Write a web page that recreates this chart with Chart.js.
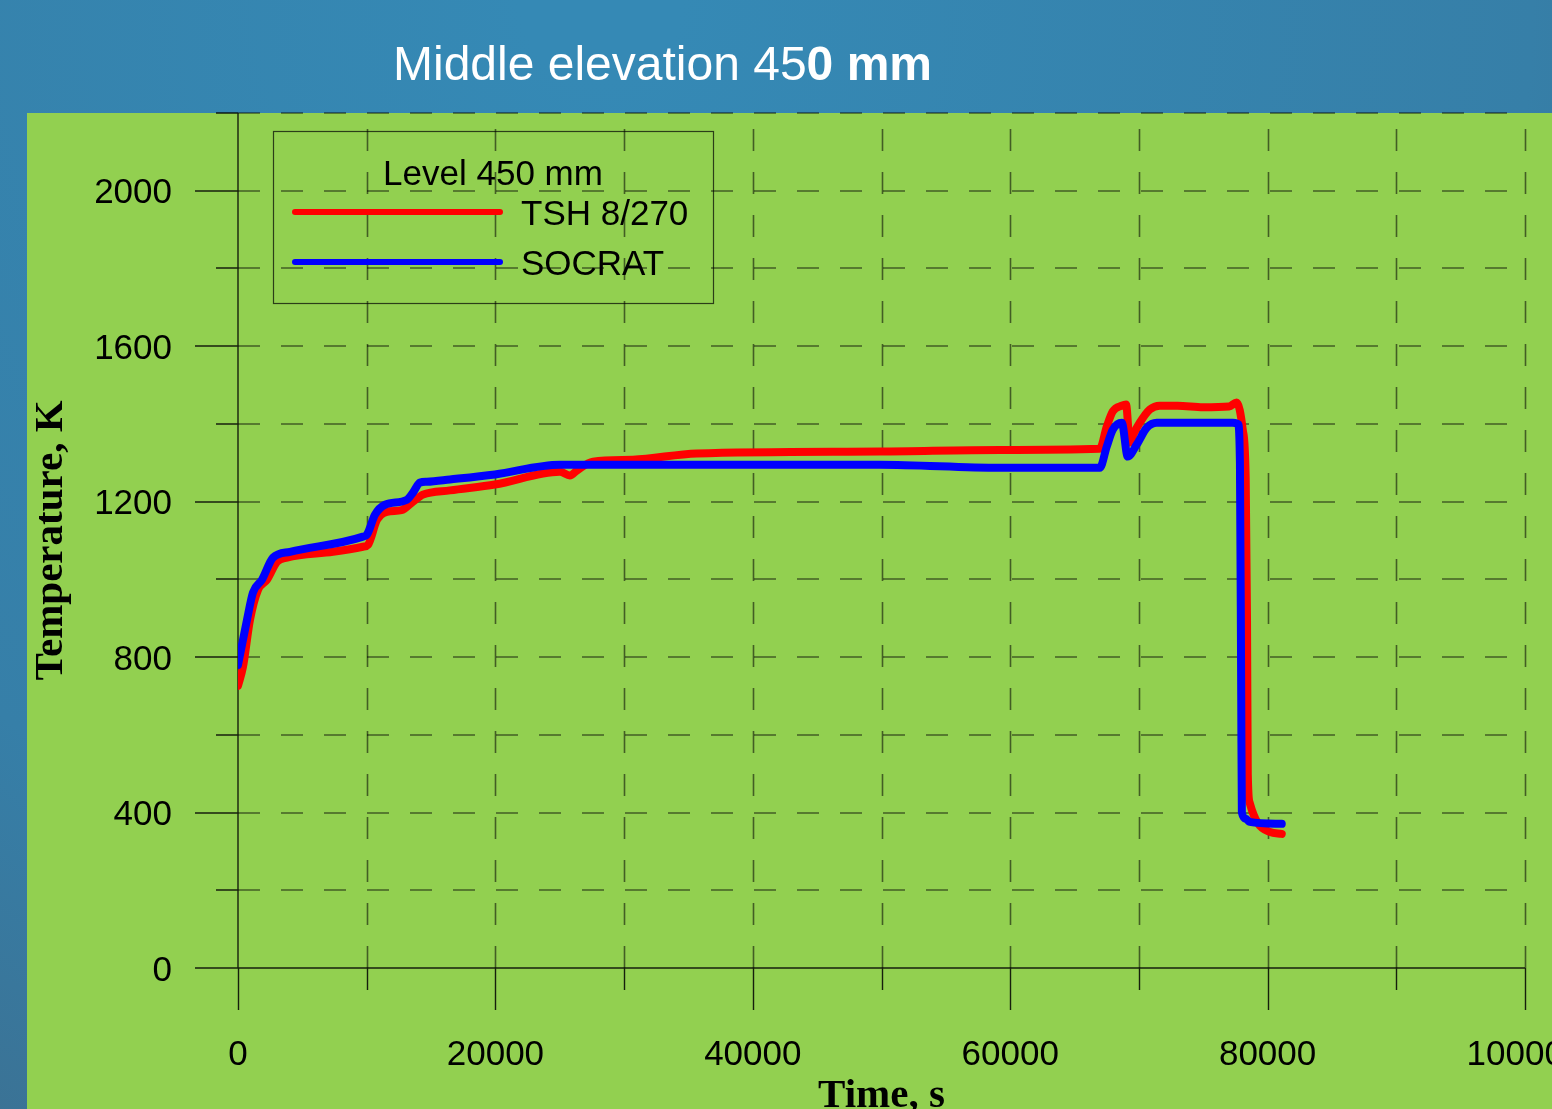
<!DOCTYPE html>
<html><head><meta charset="utf-8">
<script src="https://cdn.jsdelivr.net/npm/chart.js@4.4.1/dist/chart.umd.min.js"></script>
<style>html,body{margin:0;padding:0;overflow:hidden;background:#3585b0}canvas{display:block}</style>
</head><body>
<canvas id="c" width="1552" height="1109"></canvas>
<script>
const chartTitleNormal = 'Middle elevation 45';
const chartTitleBold = '0 mm';
const legendTitle = 'Level 450 mm';
const seriesNames = ['TSH 8/270', 'SOCRAT'];
const xAxisTitle = 'Time, s';
const yAxisTitle = 'Temperature, K';
const xTickValues = [0, 20000, 40000, 60000, 80000, 100000];
const yTickValues = [0, 400, 800, 1200, 1600, 2000];

const tshTime = [0, 388, 932, 1554, 2253, 3030, 3806, 7380, 9710, 10100, 10800, 11575, 12700, 13590, 14370, 16470, 19960, 25010, 25790, 26330, 27580, 30680, 35650, 49870, 59190, 66960, 67505, 67970, 68670, 69000, 69290, 69600, 70065, 70845, 71620, 73000, 75000, 77000, 77600, 78070, 78300, 78400, 78460, 78610, 79230, 80165, 81100];
const tshTemp = [726, 775, 896, 973, 999, 1045, 1056, 1071, 1084, 1089, 1153, 1174, 1178, 1200, 1218, 1229, 1244, 1277, 1267, 1280, 1303, 1308, 1324, 1329, 1333, 1336, 1393, 1432, 1447, 1450, 1352, 1375, 1403, 1437, 1447, 1447, 1443, 1445, 1455, 1385, 1260, 900, 500, 425, 373, 350, 345];

const socTime = [0, 700, 1165, 1864, 2719, 4040, 9710, 10020, 10640, 11420, 13130, 13590, 14140, 14680, 16470, 19960, 25010, 30000, 49870, 59190, 66960, 67505, 67970, 68670, 69135, 69835, 70610, 71390, 77290, 77700, 77850, 77950, 78000, 78300, 78610, 81100];
const socTemp = [780, 896, 966, 999, 1056, 1071, 1110, 1115, 1166, 1192, 1205, 1223, 1249, 1251, 1257, 1270, 1295, 1295, 1295, 1287, 1287, 1342, 1385, 1403, 1316, 1347, 1390, 1403, 1403, 1400, 1300, 700, 400, 384, 376, 371];

const toPoints = (ts, vs) => ts.map((t, i) => ({x: t, y: vs[i]}));

const deco = {
  id: 'deco',
  beforeDraw(chart) {
    const ctx = chart.ctx, W = chart.width, H = chart.height;
    ctx.save();
    const g = ctx.createRadialGradient(600, 0, 80, 600, 0, 1500);
    g.addColorStop(0, '#3589b5');
    g.addColorStop(0.6, '#367fa8');
    g.addColorStop(1, '#3e6a88');
    ctx.fillStyle = g;
    ctx.fillRect(0, 0, W, H);
    ctx.fillStyle = '#92d050';
    ctx.fillRect(27, 113, W - 27, H - 113);
    ctx.fillStyle = '#ffffff';
    ctx.textBaseline = 'alphabetic';
    ctx.textAlign = 'left';
    ctx.font = '48px "Liberation Sans", Arial, sans-serif';
    ctx.fillText(chartTitleNormal, 393, 80);
    const w = ctx.measureText(chartTitleNormal).width;
    ctx.font = 'bold 48px "Liberation Sans", Arial, sans-serif';
    ctx.fillText(chartTitleBold, 393 + w, 80);
    ctx.restore();
  },
  beforeDatasetsDraw(chart) {
    const {ctx} = chart;
    const x = chart.scales.x, y = chart.scales.y;
    const x0 = x.getPixelForValue(x.min), y0 = y.getPixelForValue(y.min);
    const xr = x.getPixelForValue(x.max), yt = y.getPixelForValue(y.max);
    ctx.save();
    ctx.lineWidth = 1.6;
    ctx.strokeStyle = 'rgba(0,0,0,0.55)';
    ctx.setLineDash([22, 21]);
    for (let v = y.min + 200; v <= y.max; v += 200) {
      const p = Math.round(y.getPixelForValue(v));
      ctx.beginPath(); ctx.moveTo(x0, p); ctx.lineTo(xr, p); ctx.stroke();
    }
    for (let v = x.min + 10000; v <= x.max; v += 10000) {
      const p = Math.round(x.getPixelForValue(v)) + 0.5;
      ctx.beginPath(); ctx.moveTo(p, y0); ctx.lineTo(p, yt); ctx.stroke();
    }
    ctx.setLineDash([]);
    ctx.strokeStyle = 'rgba(0,0,0,0.85)';
    ctx.lineWidth = 1.4;
    ctx.beginPath();
    ctx.moveTo(x0, yt); ctx.lineTo(x0, y0); ctx.lineTo(xr, y0);
    for (let v = y.min; v <= y.max; v += 200) {
      const p = Math.round(y.getPixelForValue(v));
      const len = (v % 400 === 0) ? 43 : 22;
      ctx.moveTo(x0 - len, p); ctx.lineTo(x0, p);
    }
    for (let v = x.min; v <= x.max; v += 10000) {
      const p = Math.round(x.getPixelForValue(v)) + 0.5;
      const len = (v % 20000 === 0) ? 42 : 22;
      ctx.moveTo(p, y0); ctx.lineTo(p, y0 + len);
    }
    ctx.stroke();
    ctx.restore();
  },
  afterDatasetsDraw(chart) {
    const ctx = chart.ctx;
    ctx.save();
    ctx.strokeStyle = 'rgba(0,0,0,0.7)';
    ctx.lineWidth = 1.2;
    ctx.strokeRect(273.5, 131.5, 440, 172);
    ctx.fillStyle = '#000';
    ctx.font = '35px "Liberation Sans", Arial, sans-serif';
    ctx.textAlign = 'center';
    ctx.textBaseline = 'alphabetic';
    ctx.fillText(legendTitle, 493, 185);
    ctx.textAlign = 'left';
    const rows = [212, 262];
    chart.data.datasets.forEach((ds) => {
      const yy = rows[ds.legendRow];
      ctx.strokeStyle = ds.borderColor;
      ctx.lineWidth = 6;
      ctx.lineCap = 'round';
      ctx.beginPath(); ctx.moveTo(295, yy); ctx.lineTo(500, yy); ctx.stroke();
      ctx.fillText(ds.label, 521, yy + 13);
    });
    ctx.restore();
  }
};

new Chart(document.getElementById('c'), {
  type: 'line',
  data: {
    datasets: [
      {label: seriesNames[1], legendRow: 1, data: toPoints(socTime, socTemp), borderColor: '#0000ff', order: 0},
      {label: seriesNames[0], legendRow: 0, data: toPoints(tshTime, tshTemp), borderColor: '#ff0000', order: 1}
    ]
  },
  options: {
    responsive: false,
    animation: false,
    devicePixelRatio: 1,
    layout: {padding: {left: 0, right: 27, top: 113, bottom: 0}},
    elements: {
      point: {radius: 0},
      line: {borderWidth: 8, tension: 0, cubicInterpolationMode: 'monotone', borderCapStyle: 'round', borderJoinStyle: 'round', fill: false}
    },
    plugins: {legend: {display: false}, tooltip: {enabled: false}},
    scales: {
      x: {
        type: 'linear', min: 0, max: 100000,
        grid: {display: false, drawTicks: false},
        border: {display: false},
        afterBuildTicks: s => { s.ticks = xTickValues.map(v => ({value: v})); },
        ticks: {padding: 66, color: '#000', font: {family: '"Liberation Sans", Arial, sans-serif', size: 35}, maxRotation: 0, autoSkip: false, callback: v => String(v)},
        title: {display: true, text: xAxisTitle, color: '#000', font: {family: '"Liberation Serif", "Times New Roman", serif', size: 41, weight: 'bold', lineHeight: 0.8}, padding: {top: 0, bottom: -4}},
        afterFit: s => { s.height = 141; s.paddingLeft = 0; s.paddingRight = 0; }
      },
      y: {
        type: 'linear', min: 0, max: 2200,
        grid: {display: false, drawTicks: false},
        border: {display: false},
        afterBuildTicks: s => { s.ticks = yTickValues.map(v => ({value: v})); },
        ticks: {padding: 66, labelOffset: 3, color: '#000', font: {family: '"Liberation Sans", Arial, sans-serif', size: 35}, autoSkip: false, callback: v => String(v)},
        title: {display: true, text: yAxisTitle, color: '#000', font: {family: '"Liberation Serif", "Times New Roman", serif', size: 41, weight: 'bold', lineHeight: 1.2}, padding: {top: 27, bottom: 0}},
        afterFit: s => { s.width = 238; s.paddingTop = 0; s.paddingBottom = 0; }
      }
    }
  },
  plugins: [deco]
});
</script>
</body></html>
